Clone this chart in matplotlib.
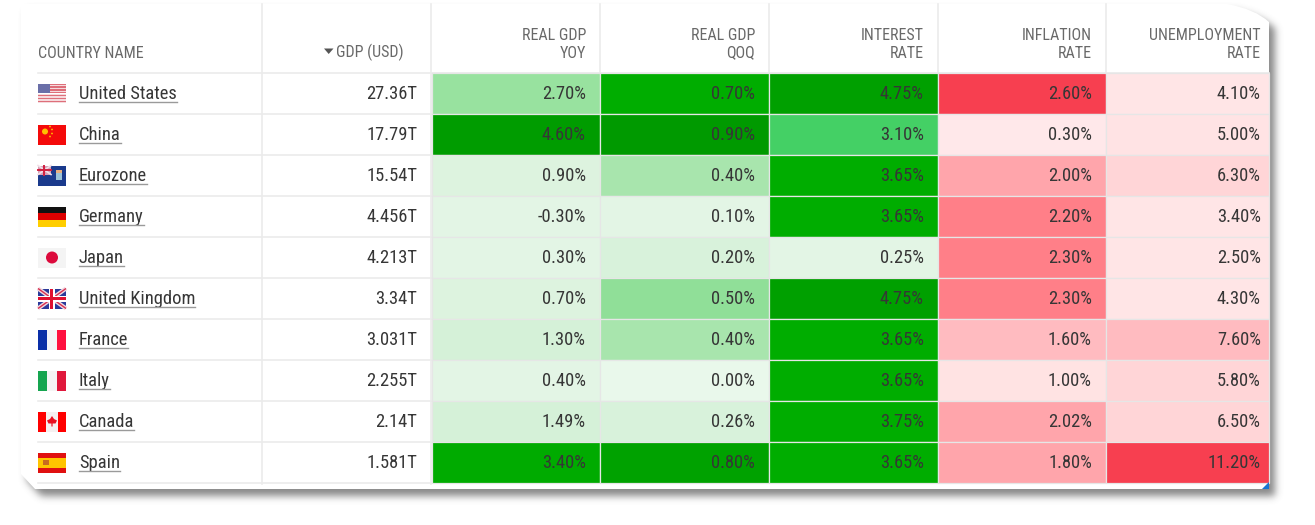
import matplotlib
matplotlib.use("Agg")
import numpy as np
import matplotlib.pyplot as plt
from matplotlib.patches import Rectangle, Polygon, Circle, PathPatch
from matplotlib.path import Path

countries = ["United States", "China", "Eurozone", "Germany", "Japan",
             "United Kingdom", "France", "Italy", "Canada", "Spain"]
gdp = ["27.36T", "17.79T", "15.54T", "4.456T", "4.213T", "3.34T", "3.031T", "2.255T", "2.14T", "1.581T"]
real_gdp_yoy = [2.70, 4.60, 0.90, -0.30, 0.30, 0.70, 1.30, 0.40, 1.49, 3.40]
real_gdp_qoq = [0.70, 0.90, 0.40, 0.10, 0.20, 0.50, 0.40, 0.00, 0.26, 0.80]
interest_rate = [4.75, 3.10, 3.65, 3.65, 0.25, 4.75, 3.65, 3.65, 3.75, 3.65]
inflation_rate = [2.60, 0.30, 2.00, 2.20, 2.30, 2.30, 1.60, 1.00, 2.02, 1.80]
unemployment_rate = [4.10, 5.00, 6.30, 3.40, 2.50, 4.30, 7.60, 5.80, 6.50, 11.20]

columns = [real_gdp_yoy, real_gdp_qoq, interest_rate, inflation_rate, unemployment_rate]
col_titles = [("REAL GDP", "YOY"), ("REAL GDP", "QOQ"), ("INTEREST", "RATE"),
              ("INFLATION", "RATE"), ("UNEMPLOYMENT", "RATE")]

# colour steps: (upper limit of the value, fill)
green_yoy = [(0.5, "#E3F5E5"), (1.0, "#DDF3DF"), (2.0, "#D5F1D8"), (3.0, "#98E29F"), (4.0, "#00AB00"), (9, "#009C00")]
green_qoq = [(0.05, "#E9F8EB"), (0.15, "#E3F5E5"), (0.3, "#D8F2DB"), (0.45, "#A8E5AD"), (0.6, "#90DF98"),
             (0.75, "#00AD00"), (0.85, "#00A200"), (9, "#009A00")]
green_int = [(1.0, "#E3F5E5"), (3.3, "#44D065"), (4.0, "#00AD00"), (9, "#00A000")]
red_inf = [(0.5, "#FFE8EA"), (1.2, "#FFE3E3"), (1.7, "#FFBBC0"), (2.1, "#FFA5AB"), (2.35, "#FF7F88"), (9, "#F73F50")]
red_une = [(4.5, "#FFE5E6"), (5.4, "#FFE3E4"), (6.9, "#FFD5D7"), (9, "#FFBBC0"), (20, "#F73F50")]
steps = [green_yoy, green_qoq, green_int, red_inf, red_une]


def shade(col, v):
    for lim, c in steps[col]:
        if v <= lim:
            return c
    return steps[col][-1][1]


plt.rcParams["font.family"] = ["Roboto Condensed", "Roboto", "DejaVu Sans"]

fig = plt.figure(figsize=(13.15, 5.25), dpi=100, facecolor="white")
ax = fig.add_axes([0, 0, 1, 1])
ax.set_xlim(0, 1315)
ax.set_ylim(525, 0)
ax.axis("off")

# card outline
L, T, R, B = 21, 4, 1269, 489


def card_path():
    verts = [(L, T), (R - 42, T), (R - 14, T + 5), (R, T + 18),
             (R, B), (L + 14, B), (L, B - 15), (L, T)]
    codes = [Path.MOVETO, Path.LINETO, Path.CURVE3, Path.CURVE3,
             Path.LINETO, Path.LINETO, Path.LINETO, Path.CLOSEPOLY]
    return Path(verts, codes)


# soft drop shadow: blurred card shape
yy, xx = np.mgrid[0:525, 0:1315]
mask = card_path().contains_points(np.c_[xx.ravel() - 5.5, yy.ravel() - 6.0]).reshape(525, 1315).astype(float)
kernel = np.exp(-0.5 * (np.arange(-12, 13) / 3.8) ** 2)
kernel /= kernel.sum()
mask = np.apply_along_axis(lambda m: np.convolve(m, kernel, mode="same"), 0, mask)
mask = np.apply_along_axis(lambda m: np.convolve(m, kernel, mode="same"), 1, mask)
rgba = np.zeros((525, 1315, 4))
rgba[..., :3] = 0.32
rgba[..., 3] = mask * 0.68
ax.imshow(rgba, extent=(0, 1315, 525, 0), zorder=1, aspect="auto", interpolation="nearest")
ax.set_xlim(0, 1315)
ax.set_ylim(525, 0)

ax.add_patch(PathPatch(card_path(), fc="white", ec="none", zorder=2))

col_edges = [432, 600, 769, 938, 1106, 1269]
text_right = [586, 755, 924, 1092, 1261]
row_top = 73
row_h = 41
grid = "#EBEBEB"
txt = "#363636"
head = "#696969"
fs_cell = 13.35
fs_head = 11.5
base_off = 5.3

# grid
for x in [262, 431]:
    ax.plot([x, x], [4, 484], color=grid, lw=1.2, zorder=3)
for x in col_edges[1:-1]:
    ax.plot([x, x], [4, 73], color=grid, lw=1.2, zorder=3)
for r in range(11):
    y = row_top + r * row_h
    ax.plot([38, 432], [y, y], color=grid, lw=1.2, zorder=3)
ax.plot([432, 1269], [73, 73], color=grid, lw=1.2, zorder=3)

# heat cells
for c, vals in enumerate(columns):
    for r, v in enumerate(vals):
        x0, x1 = col_edges[c], col_edges[c + 1]
        y0 = row_top + r * row_h
        ax.add_patch(Rectangle((x0, y0), x1 - x0, row_h, fc=shade(c, v), ec="#E6E6E6", lw=0.9, zorder=3))
        ax.text(text_right[c], y0 + row_h / 2 + base_off, f"{v:.2f}%", ha="right", va="baseline",
                fontsize=fs_cell, color=txt, zorder=5)

# headers
ax.text(38, 57.5, "COUNTRY NAME", ha="left", va="baseline", fontsize=fs_head, color=head, zorder=5)
ax.text(404, 57.5, "GDP (USD)", ha="right", va="baseline", fontsize=fs_head, color=head, zorder=5)
ax.add_patch(Polygon([(324, 48.5), (333.5, 48.5), (328.7, 54)], fc="#555555", ec="none", zorder=5))
for c, (a, b) in enumerate(col_titles):
    ax.text(text_right[c], 39.5, a, ha="right", va="baseline", fontsize=fs_head, color=head, zorder=5)
    ax.text(text_right[c], 57.5, b, ha="right", va="baseline", fontsize=fs_head, color=head, zorder=5)


# flags
def rect(x, y, w, h, c, z=4):
    ax.add_patch(Rectangle((x, y), w, h, fc=c, ec="none", zorder=z))


def flag(name, x, y):
    w, h = 28, 20
    if name == "United States":
        for i in range(7):
            rect(x, y + i * h / 7, w, h / 14, "#DE6F7A")
            rect(x, y + i * h / 7 + h / 14, w, h / 14, "#F5DADD")
        rect(x, y, 12, 9, "#6A6FA8")
    elif name == "China":
        rect(x, y, w, h, "#F40A0A")
        ax.add_patch(Circle((x + 7, y + 7), 3.0, fc="#FFC000", ec="none", zorder=5))
        for dx, dy in [(12, 2), (14, 5), (14, 9), (12, 12)]:
            ax.add_patch(Circle((x + dx, y + dy), 0.9, fc="#FFC000", ec="none", zorder=5))
    elif name == "Eurozone":
        rect(x, y, w, h, "#1A3A8C")
        rect(x, y, 13, 9, "#D8A0B8")
        ax.plot([x, x + 13], [y, y + 9], color="#F0E0E8", lw=1.2, zorder=5)
        ax.plot([x, x + 13], [y + 9, y], color="#F0E0E8", lw=1.2, zorder=5)
        ax.plot([x, x + 13], [y + 4.5, y + 4.5], color="#D02040", lw=1.4, zorder=5)
        ax.plot([x + 6.5, x + 6.5], [y, y + 9], color="#D02040", lw=1.4, zorder=5)
        rect(x + 18, y + 4, 6, 10, "#9CC4D8", 5)
        rect(x + 18, y + 4, 6, 3, "#E8B080", 5)
    elif name == "Germany":
        rect(x, y, w, h / 3, "#111111")
        rect(x, y + h / 3, w, h / 3, "#DD0000")
        rect(x, y + 2 * h / 3, w, h / 3, "#FFCE00")
    elif name == "Japan":
        rect(x, y, w, h, "#F4F4F4")
        ax.add_patch(Circle((x + 14, y + 10), 6, fc="#DC0A3C", ec="none", zorder=5))
    elif name == "United Kingdom":
        rect(x, y, w, h, "#2A3A9A")
        ax.plot([x, x + w], [y, y + h], color="#F0D8E0", lw=3, zorder=4.2, solid_capstyle="butt")
        ax.plot([x, x + w], [y + h, y], color="#F0D8E0", lw=3, zorder=4.2, solid_capstyle="butt")
        ax.plot([x, x + w], [y, y + h], color="#D83050", lw=1, zorder=4.3, solid_capstyle="butt")
        ax.plot([x, x + w], [y + h, y], color="#D83050", lw=1, zorder=4.3, solid_capstyle="butt")
        rect(x + 11, y, 6, h, "white", 4.4)
        rect(x, y + 7, w, 6, "white", 4.4)
        rect(x + 12.5, y, 3, h, "#E01030", 4.5)
        rect(x, y + 8.5, w, 3, "#E01030", 4.5)
    elif name == "France":
        rect(x, y, w / 3, h, "#0A2FA8")
        rect(x + w / 3, y, w / 3, h, "#F3F3F8")
        rect(x + 2 * w / 3, y, w / 3, h, "#FF1040")
    elif name == "Italy":
        rect(x, y, w / 3, h, "#16A550")
        rect(x + w / 3, y, w / 3, h, "#F5F5F5")
        rect(x + 2 * w / 3, y, w / 3, h, "#E0183C")
    elif name == "Canada":
        rect(x, y, w, h, "#F5F0F0")
        rect(x, y, 8, h, "#FF0000")
        rect(x + 20, y, 8, h, "#FF0000")
        ax.add_patch(Polygon([(x + 14, y + 4.5), (x + 16, y + 7.5), (x + 19, y + 9), (x + 17.5, y + 12),
                              (x + 14.6, y + 12), (x + 14.6, y + 15), (x + 13.4, y + 15), (x + 13.4, y + 12),
                              (x + 10.5, y + 12), (x + 9, y + 9), (x + 12, y + 7.5)],
                             fc="#E81020", ec="none", zorder=5))
    elif name == "Spain":
        rect(x, y, w, h, "#E01010")
        rect(x, y + 5, w, 10, "#FFC400")
        rect(x + 5, y + 7.5, 6, 5, "#C86A20", 5)


fig.canvas.draw()
rend = fig.canvas.get_renderer()
for r, name in enumerate(countries):
    yc = row_top + r * row_h + row_h / 2
    flag(name, 38, yc - 10)
    t = ax.text(79, yc + base_off, name, ha="left", va="baseline", fontsize=fs_cell, color=txt, zorder=5)
    bb = t.get_window_extent(rend)
    ax.plot([79, 79 + bb.width], [yc + 8.5, yc + 8.5], color="#9A9A9A", lw=1, zorder=5)
    ax.text(417.5, yc + base_off, gdp[r], ha="right", va="baseline", fontsize=fs_cell, color=txt, zorder=5)

# resize handle
ax.add_patch(Polygon([(1262, 489), (1269, 489), (1269, 482)], fc="#1976D2", ec="none", zorder=6))

fig.savefig("out.png", dpi=100, facecolor="white")
